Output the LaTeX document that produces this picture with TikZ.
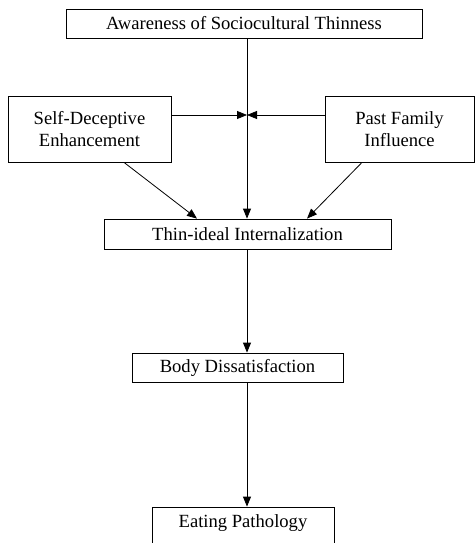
\documentclass[tikz,border=0pt]{standalone}
\usepackage{fontspec}
\setmainfont{Liberation Serif}
\usetikzlibrary{arrows.meta}
\begin{document}
\begin{tikzpicture}[x=1pt,y=-1pt,
  box/.style={draw, line width=0.8pt, inner sep=0pt, align=center, font=\fontsize{18.6}{22}\selectfont},
  arr/.style={line width=0.8pt, -{Triangle[length=10pt,width=8pt]}},
  ln/.style={line width=0.8pt}]
\useasboundingbox (0,0) rectangle (476,543);
\clip (0,0) rectangle (476,543);
\node[box, minimum width=356pt, minimum height=29pt] (aw) at (244,23.5) {Awareness of Sociocultural Thinness};
\node[box, minimum width=163pt, minimum height=66pt] (sde) at (89.5,129) {Self-Deceptive\\Enhancement};
\node[box, minimum width=149pt, minimum height=66pt] (pfi) at (399.5,129) {Past Family\\Influence};
\node[box, minimum width=287pt, minimum height=30pt] (thin) at (247.5,234) {Thin-ideal Internalization};
\node[box, minimum width=211pt, minimum height=29pt] (body) at (237.5,367.5) {Body Dissatisfaction};
\node[box, minimum width=182pt, minimum height=48pt] (eat) at (243,531) {};
\node[font=\fontsize{18.6}{22}\selectfont, inner sep=0pt] (eattxt) at (243,523) {Eating Pathology};
\coordinate (meet) at (247,115);
\draw[arr] (aw.south -| meet) -- (thin.north -| meet);
\draw[arr] (sde.east |- meet) -- (meet);
\draw[arr] (pfi.west |- meet) -- (meet);
\draw[arr] ([xshift=34.5pt]sde.south) -- ([xshift=-50.5pt]thin.north);
\draw[arr] ([xshift=-37.5pt]pfi.south) -- ([xshift=59.5pt]thin.north);
\draw[arr] (thin.south -| meet) -- (body.north -| meet);
\draw[arr] (body.south -| meet) -- (eat.north -| meet);
\end{tikzpicture}
\end{document}
